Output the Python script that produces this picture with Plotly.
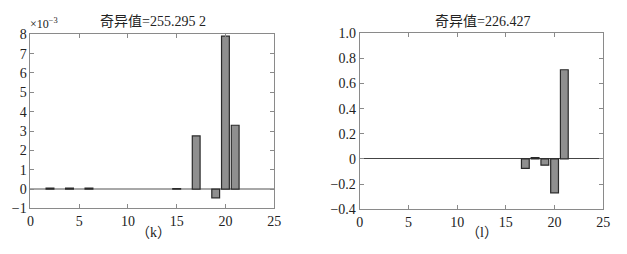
import plotly.graph_objects as go
from plotly.subplots import make_subplots

# Panel (k): values in units of 1e-3
k_x = [2, 4, 6, 15, 17, 19, 20, 21]
k_vals = [0.05, 0.05, 0.05, 0.03, 2.75, -0.45, 7.9, 3.3]
k_title = "奇异值=255.295 2"
k_label = "（k）"
k_yticks = [-1, 0, 1, 2, 3, 4, 5, 6, 7, 8]

# Panel (l)
l_x = [17, 18, 19, 20, 21]
l_vals = [-0.075, 0.01, -0.05, -0.27, 0.71]
l_title = "奇异值=226.427"
l_label = "（l）"
l_yticks = [-0.4, -0.2, 0, 0.2, 0.4, 0.6, 0.8, 1.0]
l_yticktext = ["−0.4", "−0.2", "0", "0.2", "0.4", "0.6", "0.8", "1.0"]

x_ticks = [0, 5, 10, 15, 20, 25]

SERIF = "'Liberation Serif', 'DejaVu Serif', serif"
MIXED = "'Liberation Serif', 'Noto Sans CJK SC', serif"

fig = make_subplots(rows=1, cols=2)
bar_style = dict(marker=dict(color="#8f8f8f", line=dict(color="#2a2a2a", width=1.2)), width=0.8, showlegend=False)
fig.add_trace(go.Bar(x=k_x, y=k_vals, **bar_style), row=1, col=1)
fig.add_trace(go.Bar(x=l_x, y=l_vals, **bar_style), row=1, col=2)

axcommon = dict(showgrid=False, showline=True, linecolor="#8a8a8a", linewidth=1, mirror="ticks",
                ticks="inside", ticklen=4, tickcolor="#8a8a8a",
                tickfont=dict(family=SERIF, size=14, color="#222"))

fig.update_xaxes(range=[0, 25], tickvals=x_ticks, zeroline=False, **axcommon)
fig.update_layout(
    xaxis=dict(domain=[0.043, 0.4386]),
    xaxis2=dict(domain=[0.5774, 0.9729]),
    yaxis=dict(domain=[0.157, 0.886], range=[-1, 8], tickvals=k_yticks,
               ticktext=["−1"] + [str(v) for v in k_yticks[1:]],
               zeroline=True, zerolinecolor="#a8a8a8", zerolinewidth=2, **axcommon),
    yaxis2=dict(domain=[0.154, 0.890], range=[-0.4, 1.0], tickvals=l_yticks, ticktext=l_yticktext,
                zeroline=True, zerolinecolor="#444", zerolinewidth=1, **axcommon),
    bargap=0.2,
    width=627, height=254,
    margin=dict(l=0, r=0, t=0, b=0),
    plot_bgcolor="white", paper_bgcolor="white",
    font=dict(family=MIXED, color="#222"),
)

ann = [
    dict(text=k_title, x=152, y=15),
    dict(text=l_title, x=487, y=15),
    dict(text=k_label, x=152, y=240),
    dict(text=l_label, x=487, y=240),
]
for a in ann:
    fig.add_annotation(text=a["text"], x=a["x"] / 627, y=1 - a["y"] / 254, xref="paper", yref="paper",
                       showarrow=False, xanchor="center", yanchor="middle",
                       font=dict(family=MIXED, size=14, color="#222"))
fig.add_annotation(text="×10<sup>−3</sup>", x=24 / 627, y=1 - 18 / 254, xref="paper", yref="paper",
                   showarrow=False, xanchor="left", yanchor="middle",
                   font=dict(family=SERIF, size=12, color="#222"))

fig.write_html("out.html")
